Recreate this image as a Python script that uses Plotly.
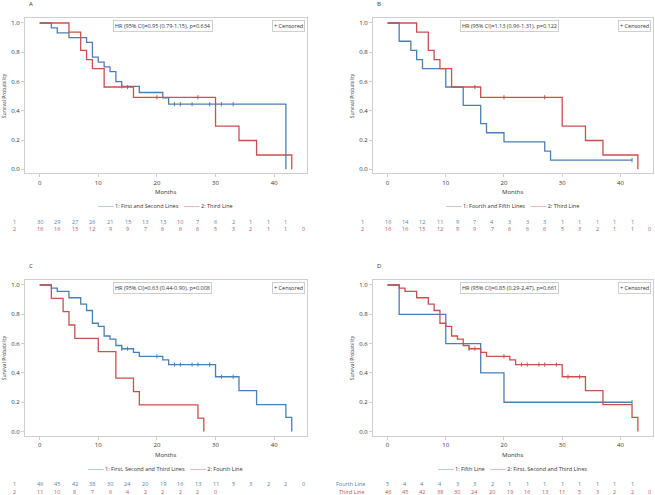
import numpy as np
import plotly.graph_objects as go

BLUE = "#4a7fb5"
RED = "#c9504e"
FONT = "Open Sans"

# ---- survival curves (step times in months, survival probability) ----
# group "First and Second Lines"
fs_t = [0, 2, 3, 5, 8, 9, 10, 11, 12, 13, 14, 17, 21, 22, 42]
fs_s = [1, 0.967, 0.933, 0.900, 0.867, 0.767, 0.733, 0.700, 0.667, 0.600, 0.567, 0.525, 0.489, 0.445, 0]
fs_cens = [14, 23, 24, 26, 29, 31, 33]

# group "Third Line"
third_t = [0, 5, 7, 8, 9, 11, 16, 30, 34, 37, 43]
third_s = [1, 0.9375, 0.8125, 0.75, 0.6875, 0.5625, 0.492, 0.295, 0.197, 0.098, 0]
third_cens = [15, 20, 27]

# group "Fourth and Fifth Lines"
ff_t = [0, 2, 4, 5, 6, 10, 13, 16, 17, 20, 27, 28, 42]
ff_s = [1, 0.875, 0.8125, 0.75, 0.6875, 0.5625, 0.4375, 0.3125, 0.25, 0.1875, 0.125, 0.0625, 0.0625]
ff_cens = [42]

# group "First, Second and Third Lines"
fst_t = [0, 2, 3, 5, 7, 8, 9, 10, 11, 12, 13, 14, 16, 17, 21, 22, 30, 34, 37, 42, 43]
fst_s = [1, 0.978, 0.957, 0.913, 0.870, 0.826, 0.739, 0.717, 0.652, 0.630, 0.587, 0.565, 0.540,
         0.513, 0.489, 0.457, 0.374, 0.279, 0.183, 0.096, 0]
fst_cens = [14, 15, 20, 23, 24, 26, 27, 29, 31, 33]

# group "Fourth Line"
fourth_t = [0, 2, 4, 5, 6, 10, 13, 16, 17, 27, 28]
fourth_s = [1, 0.909, 0.818, 0.727, 0.636, 0.545, 0.364, 0.273, 0.182, 0.091, 0]
fourth_cens = []

# group "Fifth Line"
fifth_t = [0, 2, 10, 16, 20, 42]
fifth_s = [1, 0.8, 0.6, 0.4, 0.2, 0.2]
fifth_cens = [42]

# ---- numbers at risk (every 3 months) ----
risk_months = list(range(0, 46, 3))
riskA1 = [30, 29, 27, 26, 21, 15, 13, 13, 10, 7, 6, 2, 1, 1, 1]
riskA2 = [16, 16, 15, 12, 9, 9, 7, 6, 6, 6, 5, 3, 2, 1, 1, 0]
riskB1 = [16, 14, 12, 11, 9, 7, 4, 3, 3, 3, 1, 1, 1, 1, 1]
riskB2 = [16, 16, 15, 12, 9, 9, 7, 6, 6, 6, 5, 3, 2, 1, 1, 0]
riskC1 = [46, 45, 42, 38, 30, 24, 20, 19, 16, 13, 11, 5, 3, 2, 2, 0]
riskC2 = [11, 10, 8, 7, 6, 4, 2, 2, 2, 2, 0]
riskD1 = [5, 4, 4, 4, 3, 3, 2, 1, 1, 1, 1, 1, 1, 1, 1]
riskD2 = [46, 45, 42, 38, 30, 24, 20, 19, 16, 13, 11, 5, 3, 2, 2, 0]

panels = [
    dict(letter="A", hr="HR (95% CI)=0.95 (0.79-1.15), p=0.634",
         c1=(fs_t, fs_s, fs_cens), c2=(third_t, third_s, third_cens),
         n1="1: First and Second Lines", n2="2: Third Line",
         r1=riskA1, r2=riskA2, lab1="1", lab2="2"),
    dict(letter="B", hr="HR (95% CI)=1.13 (0.96-1.31), p=0.122",
         c1=(ff_t, ff_s, ff_cens), c2=(third_t, third_s, third_cens),
         n1="1: Fourth and Fifth Lines", n2="2: Third Line",
         r1=riskB1, r2=riskB2, lab1="1", lab2="2"),
    dict(letter="C", hr="HR (95% CI)=0.63 (0.44-0.90), p=0.008",
         c1=(fst_t, fst_s, fst_cens), c2=(fourth_t, fourth_s, fourth_cens),
         n1="1: First, Second and Third Lines", n2="2: Fourth Line",
         r1=riskC1, r2=riskC2, lab1="1", lab2="2"),
    dict(letter="D", hr="HR (95% CI)=0.85 (0.29-2.47), p=0.661",
         c1=(fifth_t, fifth_s, fifth_cens), c2=(fst_t, fst_s, fst_cens),
         n1="1: Fifth Line", n2="2: First, Second and Third Lines",
         r1=riskD1, r2=riskD2, lab1="Fourth Line", lab2="Third Line"),
]

W, H = 655, 495
# plot frames in pixels (left, right, top, bottom)
frames = [(25, 307, 18, 173.3), (373, 653, 18, 173.3),
          (25, 307, 280, 435.5), (373, 653, 280, 435.5)]

fig = go.Figure()
annotations = []


def px(x):
    return x / W


def py(y):
    return 1 - y / H


for i, (p, fr) in enumerate(zip(panels, frames)):
    k = "" if i == 0 else str(i + 1)
    xa, ya = "x" + k, "y" + k
    left, right, top, bottom = fr

    for (t, s, cens), col in ((p["c1"], BLUE), (p["c2"], RED)):
        fig.add_trace(go.Scatter(x=t, y=s, mode="lines", line=dict(color=col, width=1.3, shape="hv"),
                                 xaxis=xa, yaxis=ya, hoverinfo="skip"))
        if cens:
            idx = np.searchsorted(np.array(t), np.array(cens), side="right") - 1
            fig.add_trace(go.Scatter(x=cens, y=[s[j] for j in idx], mode="markers",
                                     marker=dict(symbol="line-ns", size=3, line=dict(color=col, width=1)),
                                     xaxis=xa, yaxis=ya, hoverinfo="skip"))

    axis_common = dict(showgrid=False, zeroline=False, showline=True, mirror=True, linecolor="#cfcfcf",
                       linewidth=1, ticks="outside", ticklen=3, tickcolor="#cfcfcf",
                       tickfont=dict(family=FONT, size=6, color="#333333"))
    fig.update_layout(**{
        "xaxis" + k: dict(domain=[px(left), px(right)], range=[-2.5, 45.6], anchor=ya,
                          tickvals=[0, 10, 20, 30, 40], **axis_common),
        "yaxis" + k: dict(domain=[py(bottom), py(top)], range=[-0.027, 1.034], anchor=xa,
                          tickvals=[0, 0.2, 0.4, 0.6, 0.8, 1.0], tickformat=".1f", **axis_common),
    })

    box = dict(bordercolor="#cfcfcf", borderwidth=1, borderpad=1, showarrow=False,
               font=dict(family=FONT, size=5.5, color="#333333"))
    annotations.append(dict(text=p["hr"], xref=xa + " domain", yref=ya + " domain", x=0.489, y=0.948,
                            xanchor="center", yanchor="middle", **box))
    annotations.append(dict(text="+ Censored", xref=xa + " domain", yref=ya + " domain", x=0.993, y=0.948,
                            xanchor="right", yanchor="middle", **box))

    txt = dict(showarrow=False, font=dict(family=FONT, size=6, color="#333333"))
    annotations.append(dict(text=p["letter"], xref="paper", yref="paper", x=px(left + 6), y=py(top - 14),
                            xanchor="center", yanchor="middle", **txt))
    annotations.append(dict(text="Months", xref="paper", yref="paper", x=px((left + right) / 2),
                            y=py(bottom + 19), xanchor="center", yanchor="middle", **txt))
    annotations.append(dict(text="Survival Probability", xref="paper", yref="paper", textangle=-90,
                            x=px(left - 21.5), y=py((top + bottom) / 2), xanchor="center", yanchor="middle",
                            showarrow=False, font=dict(family=FONT, size=5, color="#333333")))
    legend_txt = (f'<span style="color:{BLUE}">────</span> {p["n1"]}&nbsp;&nbsp;&nbsp;&nbsp;'
                  f'<span style="color:{RED}">────</span> {p["n2"]}')
    annotations.append(dict(text=legend_txt, xref="paper", yref="paper", x=px((left + right) / 2 - 1),
                            y=py(bottom + 33), xanchor="center", yanchor="middle",
                            showarrow=False, font=dict(family=FONT, size=5.5, color="#333333")))

    # numbers at risk
    row_y = [py(bottom + 48.5), py(bottom + 56)]
    for r, (vals, col, lab) in enumerate(((p["r1"], BLUE, p["lab1"]), (p["r2"], RED, p["lab2"]))):
        for m, v in zip(risk_months, vals):
            annotations.append(dict(text=str(v), xref=xa, yref="paper", x=m, y=row_y[r],
                                    xanchor="center", yanchor="middle", showarrow=False,
                                    font=dict(family=FONT, size=5.5, color=col)))
        if len(lab) == 1:
            annotations.append(dict(text=lab, xref="paper", yref="paper", x=px(left - 11), y=row_y[r],
                                    xanchor="center", yanchor="middle", showarrow=False,
                                    font=dict(family=FONT, size=5.5, color=col)))
        else:
            annotations.append(dict(text=lab, xref="paper", yref="paper", x=px(left - 6), y=row_y[r],
                                    xanchor="right", yanchor="middle", showarrow=False,
                                    font=dict(family=FONT, size=5.5, color=col)))

fig.update_layout(width=W, height=H, margin=dict(l=0, r=0, t=0, b=0), showlegend=False,
                  paper_bgcolor="white", plot_bgcolor="white", annotations=annotations,
                  font=dict(family=FONT))

# page body has a default 8px margin; remove it so the figure fills the window
fig.write_html("out.html", config={"displayModeBar": False},
               post_script="document.body.style.margin='0';document.body.style.overflow='hidden';")
